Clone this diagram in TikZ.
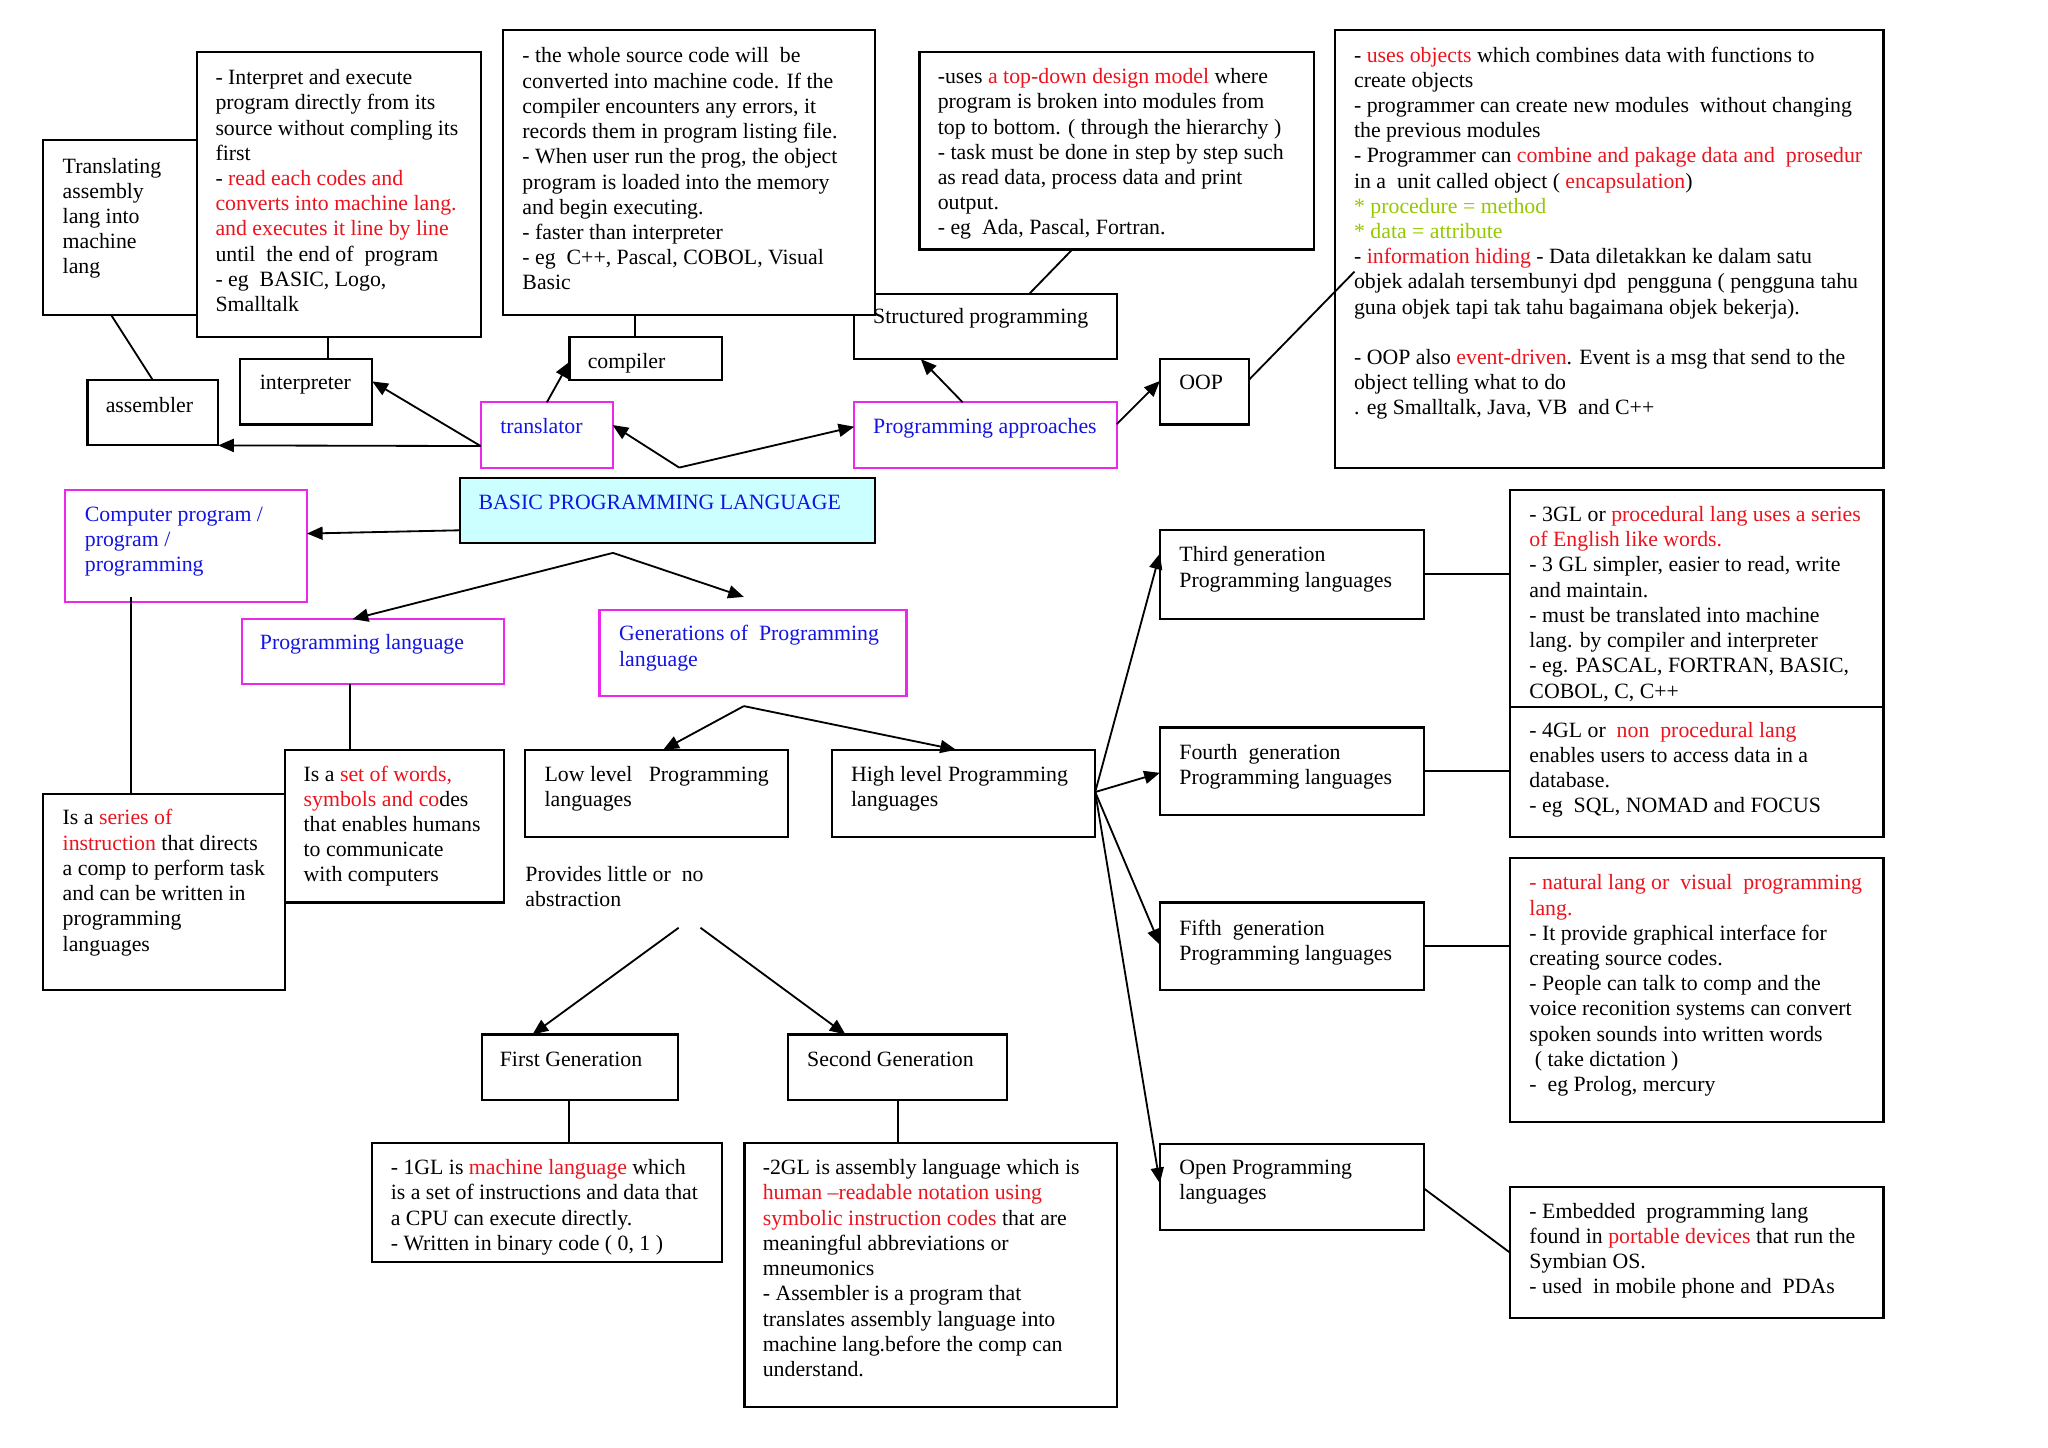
\documentclass[tikz,border=0pt]{standalone}
\usepackage{fontspec}
\setmainfont{Liberation Serif}
\usetikzlibrary{calc,arrows.meta}
\definecolor{myred}{RGB}{235,20,30}
\definecolor{myblue}{RGB}{20,20,225}
\definecolor{mygreen}{RGB}{150,200,0}
\definecolor{mymag}{RGB}{235,40,235}
\definecolor{mycyan}{RGB}{204,255,255}
\newcommand{\rd}[1]{\textcolor{myred}{#1}}
\newcommand{\gn}[1]{\textcolor{mygreen}{#1}}
\newcommand{\mkbox}[6]{\node[#2, minimum width={(#5)-(#3)}, minimum height={(#6)-(#4)}] (#1) at (#3,#4) {};}
\newcommand{\rp}[3]{($(#1.north west)+(#2,#3)$)}
\tikzset{
 bx/.style={draw=black, fill=white, line width=1.6pt, rectangle, anchor=north west, inner sep=0pt, outer sep=0pt},
 mbx/.style={bx, draw=mymag},
 cbx/.style={bx, fill=mycyan},
 txt/.style={anchor=north west, inner sep=0pt, outer sep=0pt, yshift=-1pt, align=left, font=\fontsize{16.7}{19.3}\selectfont},
 btxt/.style={txt, text=myblue},
 con/.style={line width=1.4pt},
 arr/.style={con, -{Triangle[length=12pt,width=10pt]}},
}
\begin{document}
\begin{tikzpicture}[x=1pt,y=-1pt]
\useasboundingbox (0,0) rectangle (1568,1108);

% ---- top row
\mkbox{struct}{bx}{654}{225}{855}{275}
\node[txt] (tstruct) at (668.5,233.5) {\strut Structured programming};

\mkbox{transbox}{bx}{33}{107}{151}{241}
\node[txt] (ttransbox) at (48,118) {\strut Translating\\assembly\\lang into\\machine\\lang};

\mkbox{interpd}{bx}{151}{40}{368}{258}
\node[txt] (tinterpd) at (165,50.3) {\strut - Interpret and execute\\program directly from its\\source without\ compling its\\first\\- \rd{read each codes and}\\\rd{converts into machine lang.}\\\rd{and executes it line by line}\\until\ \ the end of\ \ program\\- eg\ \ BASIC, Logo,\\Smalltalk};

\mkbox{compd}{bx}{385}{23}{670}{241}
\node[txt] (tcompd) at (400,33.7) {\strut - the whole source code will\ \ be\\converted into machine code. If the\\compiler encounters any errors, it\\records them in program listing file.\\- When user run the prog, the object\\program is loaded into the memory\\and begin executing.\\- faster than interpreter\\- eg\ \ C++, Pascal, COBOL, Visual\\Basic};

\mkbox{asm}{bx}{67}{291}{167}{341}
\node[txt] (tasm) at (81,301) {\strut assembler};
\mkbox{interp}{bx}{184}{275}{285}{325}
\node[txt] (tinterp) at (199,283.8) {\strut interpreter};
\mkbox{comp}{bx}{436}{258}{553}{291}
\node[txt] (tcomp) at (450,267.3) {\strut compiler};
\mkbox{transl}{mbx}{368}{308}{469}{358}
\node[btxt] (ttransl) at (383,317.5) {\strut translator};

\mkbox{structd}{bx}{704}{40}{1006}{191}
\node[txt] (tstructd) at (718,49.5) {\strut -uses \rd{a top-down design model} where\\program is broken into modules from\\top to bottom. ( through the hierarchy )\\- task must be done in step by step such\\as read data, process data and print\\output.\\- eg\ \ Ada, Pascal, Fortran.};

\mkbox{approach}{mbx}{654}{308}{855}{358}
\node[btxt] (tapproach) at (668.5,317.5) {\strut Programming approaches};
\mkbox{oop}{bx}{888}{275}{956}{325}
\node[txt] (toop) at (903,283.5) {\strut OOP};

\mkbox{oopd}{bx}{1022}{23}{1442}{358}
\node[txt] (toopd) at (1036.7,33) {\strut - \rd{uses objects} which combines data with functions to\\create objects\\- programmer can create new modules\ \ without changing\\the previous modules\\- Programmer can \rd{combine and pakage data and\ \ prosedur}\\in a\ \ unit called object ( \rd{encapsulation})\\\gn{* procedure = method}\\\gn{* data = attribute}\\- \rd{information hiding} - Data diletakkan ke dalam satu\\objek adalah tersembunyi dpd\ \ pengguna ( pengguna tahu\\guna objek tapi tak tahu bagaimana objek bekerja).\\[19.3pt]- OOP also \rd{event-driven}. Event is a msg that send to the\\object telling what to do\\. eg Smalltalk, Java, VB\ \ and C++};

% ---- middle
\mkbox{basic}{cbx}{352}{366}{670}{416}
\node[btxt] (tbasic) at (366.5,375.4) {\strut BASIC PROGRAMMING LANGUAGE};
\mkbox{cprog}{mbx}{50}{375}{235}{461}
\node[btxt] (tcprog) at (65,384.8) {\strut Computer program /\\program /\\programming};
\mkbox{plang}{mbx}{185}{474}{386}{524}
\node[btxt] (tplang) at (199,482.8) {\strut Programming language};
\mkbox{gens}{mbx}{459}{467}{694}{533}
\node[btxt] (tgens) at (474,476.1) {\strut Generations of\ \ Programming\\language};

\mkbox{series}{bx}{33}{608}{218}{758}
\node[txt] (tseries) at (48,617.1) {\strut Is a \rd{series of}\\\rd{instruction} that directs\\a comp to perform task\\and can be written in\\programming\\languages};
\mkbox{words}{bx}{218}{574}{386}{691}
\node[txt] (twords) at (232.5,583.5) {\strut Is a \rd{set of words,}\\\rd{symbols and co}des\\that enables humans\\to communicate\\with computers};
\mkbox{low}{bx}{402}{574}{603}{641}
\node[txt] (tlow) at (417,583.5) {\strut Low level\ \ \ Programming\\languages};
\mkbox{high}{bx}{637}{574}{838}{641}
\node[txt] (thigh) at (651.6,583.5) {\strut High level Programming\\languages};
\node[txt] (tprov) at (402.3,660.1) {\strut Provides little or\ \ no\\abstraction};

\mkbox{first}{bx}{369}{792}{519}{842}
\node[txt] (tfirst) at (382.7,802) {\strut First Generation};
\mkbox{second}{bx}{603}{792}{771}{842}
\node[txt] (tsecond) at (618,802) {\strut Second Generation};
\mkbox{gla}{bx}{285}{875}{553}{966}
\node[txt] (tgla) at (299.2,884.9) {\strut - 1GL is \rd{machine language} which\\is a set of instructions and data that\\a CPU can execute directly.\\- Written in binary code ( 0, 1 )};
\mkbox{glb}{bx}{570}{875}{855}{1077}
\node[txt] (tglb) at (584,884.9) {\strut -2GL is assembly language which is\\\rd{human –readable notation using}\\\rd{symbolic instruction codes} that are\\meaningful abbreviations or\\mneumonics\\- Assembler is a program that\\translates assembly language into\\machine lang.before the comp can\\understand.};

% ---- right
\mkbox{third}{bx}{888}{406}{1090}{474}
\node[txt] (tthird) at (903,415.7) {\strut Third generation\\Programming languages};
\mkbox{fourth}{bx}{888}{557}{1090}{624}
\node[txt] (tfourth) at (903,566.9) {\strut Fourth\ \ generation\\Programming languages};
\mkbox{fifth}{bx}{888}{691}{1090}{758}
\node[txt] (tfifth) at (903,701.7) {\strut Fifth\ \ generation\\Programming languages};
\mkbox{open}{bx}{888}{876}{1090}{942}
\node[txt] (topen) at (903,884.5) {\strut Open Programming\\languages};

\mkbox{glc}{bx}{1156}{375}{1442}{541}
\node[txt] (tglc) at (1171,384.8) {\strut - 3GL or \rd{procedural lang uses a series}\\\rd{of English like words.}\\- 3 GL simpler, easier to read, write\\and maintain.\\- must be translated into machine\\lang. by compiler and interpreter\\- eg. PASCAL, FORTRAN, BASIC,\\COBOL, C, C++};
\mkbox{gld}{bx}{1156}{541}{1442}{641}
\node[txt] (tgld) at (1171,550) {\strut - 4GL or\ \ \rd{non\ \ procedural lang}\\enables users to access data in a\\database.\\- eg\ \ SQL, NOMAD and FOCUS};
\mkbox{gle}{bx}{1156}{657}{1442}{859}
\node[txt] (tgle) at (1171,666.8) {\strut \rd{- natural lang or\ \ visual\ \ programming}\\\rd{lang.}\\- It provide graphical interface for\\creating source codes.\\- People can talk to comp and the\\voice reconition systems can convert\\spoken sounds into written words\\\ ( take dictation )\\-\ \ eg Prolog, mercury};
\mkbox{opend}{bx}{1156}{909}{1442}{1009}
\node[txt] (topend) at (1171,918.1) {\strut - Embedded\ \ programming lang\\found in \rd{portable devices} that run the\\Symbian OS.\\- used\ \ in mobile phone and\ \ PDAs};

% ---- connectors
\coordinate (apexa) at ($(basic.north west)+(168,-8)$);
\coordinate (apexb) at ($(basic.north west)+(117.3,57.3)$);
\coordinate (gtip) at ($(gens.north west)+(110.5,-10)$);
\coordinate (apexc) at ($(gens.north west)+(110.5,73.6)$);
\coordinate (pva) at ($(tprov.north west)+(117.3,49.2)$);
\coordinate (pvb) at ($(tprov.north west)+(134,49.2)$);
\coordinate (hub) at ($(high.north west)+(201.5,32.4)$);

\draw[con] \rp{transbox}{52}{134} -- \rp{asm}{50}{0};
\draw[con] \rp{interpd}{100}{218} -- \rp{interp}{67}{0};
\draw[con] \rp{compd}{101}{218} -- \rp{comp}{50}{0};
\draw[arr] \rp{transl}{0}{33.5} -- \rp{asm}{100}{50};
\draw[arr] \rp{transl}{0}{33.5} -- \rp{interp}{101}{17};
\draw[arr] \rp{transl}{50.7}{0} -- \rp{comp}{0}{19};
\draw[arr] (apexa) -- \rp{transl}{101}{17.4};
\draw[arr] (apexa) -- \rp{approach}{0}{18.7};
\draw[arr] \rp{approach}{83}{0} -- \rp{struct}{51}{50};
\draw[arr] \rp{approach}{201}{16.7} -- \rp{oop}{0}{16.7};
\draw[con] \rp{structd}{117}{151} -- \rp{struct}{134}{0};
\draw[con] \rp{oop}{68}{16} -- \rp{oopd}{15}{185};
\draw[arr] \rp{basic}{0}{40} -- \rp{cprog}{185}{33.5};
\draw[arr] (apexb) -- \rp{plang}{85}{0};
\draw[arr] (apexb) -- (gtip);
\draw[con] \rp{cprog}{50.6}{82} -- \rp{series}{67.6}{0};
\draw[con] \rp{plang}{83}{50} -- \rp{words}{50}{0};
\draw[arr] (apexc) -- \rp{low}{105.8}{0};
\draw[arr] (apexc) -- \rp{high}{94.9}{0};
\draw[arr] (pva) -- \rp{first}{38.7}{0};
\draw[arr] (pvb) -- \rp{second}{44.3}{0};
\draw[con] \rp{first}{66.5}{50} -- \rp{gla}{150.5}{0};
\draw[con] \rp{second}{84.3}{50} -- \rp{glb}{117.3}{0};
\draw[arr] (hub) -- \rp{third}{0}{17.8};
\draw[arr] (hub) -- \rp{fourth}{0}{34.7};
\draw[arr] (hub) -- \rp{fifth}{0}{32.3};
\draw[arr] (hub) -- \rp{open}{0}{30};
\draw[con] \rp{third}{202}{33.4} -- \rp{glc}{0}{64.4};
\draw[con] \rp{fourth}{202}{33.4} -- \rp{gld}{0}{49.4};
\draw[con] \rp{fifth}{202}{33.3} -- \rp{gle}{0}{67.3};
\draw[con] \rp{open}{202}{33.8} -- \rp{opend}{0}{50};
\end{tikzpicture}
\end{document}
